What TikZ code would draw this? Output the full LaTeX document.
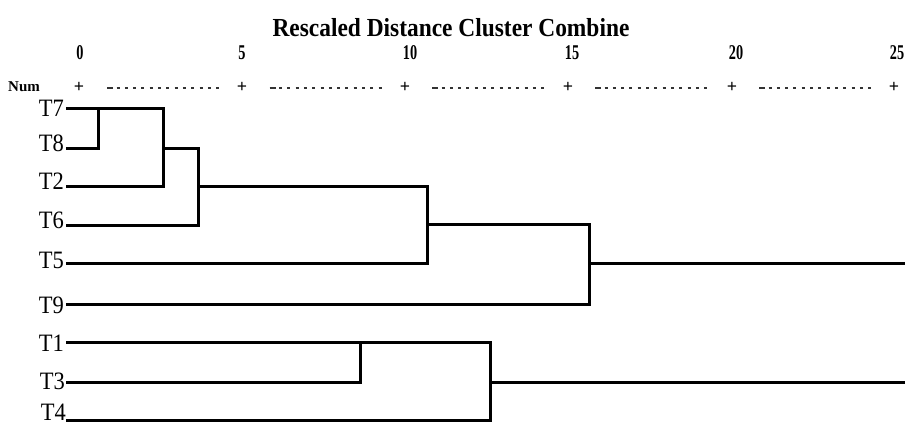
\documentclass[tikz,border=0pt]{standalone}
\usepackage{fontspec}
\setmainfont{Liberation Serif}
\usepackage{graphicx}
% horizontally squeezed text
\newcommand\hsq[2]{\scalebox{#1}[1]{#2}}
\begin{document}
\begin{tikzpicture}[x=1pt,y=-1pt,
  branch/.style={line width=3pt, line join=miter, line cap=rect},
  leaflabel/.style={anchor=base east, inner sep=0pt, font=\fontsize{25}{25}\selectfont},
  ticknum/.style={anchor=base, inner sep=0pt, font=\bfseries\fontsize{21}{21}\selectfont},
  tickmark/.style={anchor=base, inner sep=0pt, font=\bfseries\fontsize{18}{18}\selectfont},
  gapdash/.style={line width=2.8pt, black!80}]
\useasboundingbox (0,0) rectangle (905,422);

% heading and distance scale
\node[anchor=base, inner sep=0pt, font=\bfseries\fontsize{26}{26}\selectfont] (title) at (451,37)
  {\hsq{0.9}{Rescaled Distance Cluster Combine}};
\node[ticknum] (n0)  at (80,60)  {\hsq{0.68}{0}};
\node[ticknum] (n5)  at (242,60) {\hsq{0.68}{5}};
\node[ticknum] (n10) at (410,60) {\hsq{0.68}{10}};
\node[ticknum] (n15) at (572,60) {\hsq{0.68}{15}};
\node[ticknum] (n20) at (736,60) {\hsq{0.68}{20}};
\node[ticknum] (n25) at (897,60) {\hsq{0.68}{25}};
\node[anchor=base west, inner sep=0pt, font=\bfseries\fontsize{15}{15}\selectfont] (num) at (8,91.5) {\hsq{1.0}{Num}};
\foreach \p/\n in {79/p0,242/p5,405/p10,568/p15,732/p20,894/p25}
  \node[tickmark] (\n) at (\p,92.5) {+};
\foreach \s in {107,269.5,432,595,759} {
  \draw[gapdash] (\s,88) -- ++(6,0);
  \draw[gapdash, dash pattern=on 3pt off 5.3pt] (\s+9.5,88) -- ++(103,0);
}

% leaf labels
\node[leaflabel] (t7) at (64,117) {\hsq{0.9}{T7}};
\node[leaflabel] (t8) at (64,152) {\hsq{0.9}{T8}};
\node[leaflabel] (t2) at (64,190) {\hsq{0.9}{T2}};
\node[leaflabel] (t6) at (64,228.5) {\hsq{0.9}{T6}};
\node[leaflabel] (t5) at (64,269) {\hsq{0.9}{T5}};
\node[leaflabel] (t9) at (64,313) {\hsq{0.9}{T9}};
\node[leaflabel] (t1) at (64,351) {\hsq{0.9}{T1}};
\node[leaflabel] (t3) at (65,389) {\hsq{0.9}{T3}};
\node[leaflabel] (t4) at (66,420) {\hsq{0.9}{T4}};

% leaf line starts
\coordinate (l7) at (67,109);
\coordinate (l8) at (67,148.5);
\coordinate (l2) at (67,186.5);
\coordinate (l6) at (67,225.5);
\coordinate (l5) at (67,263.5);
\coordinate (l9) at (67,304);
\coordinate (l1) at (67,342.5);
\coordinate (l3) at (67,382);
\coordinate (l4) at (67,420);

% merge points
\coordinate (m78)  at (98,109);
\coordinate (m782) at (163,109);
\coordinate (o782) at (163,148.5);
\coordinate (m6)   at (198,225.5);
\coordinate (o6)   at (198,186.5);
\coordinate (m5)   at (427,263.5);
\coordinate (o5)   at (427,225);
\coordinate (m9)   at (589,304);
\coordinate (o9)   at (589,263.5);
\coordinate (e1)   at (905,263.5);
\coordinate (m13)  at (360,342.5);
\coordinate (m134) at (490,342.5);
\coordinate (o134) at (490,382);
\coordinate (e2)   at (905,382);

% upper cluster
\draw[branch] (l8) -| (m78);
\draw[branch] (l7) -- (m782);
\draw[branch] (l2) -| (m782);
\draw[branch] (o782) -| (m6);
\draw[branch] (l6) -- (m6);
\draw[branch] (o6) -| (m5);
\draw[branch] (l5) -- (m5);
\draw[branch] (o5) -| (m9);
\draw[branch] (l9) -- (m9);
\draw[branch] (o9) -- (e1);

% lower cluster
\draw[branch] (l3) -| (m13);
\draw[branch] (l1) -- (m134);
\draw[branch] (l4) -| (m134);
\draw[branch] (o134) -- (e2);
\end{tikzpicture}
\end{document}
